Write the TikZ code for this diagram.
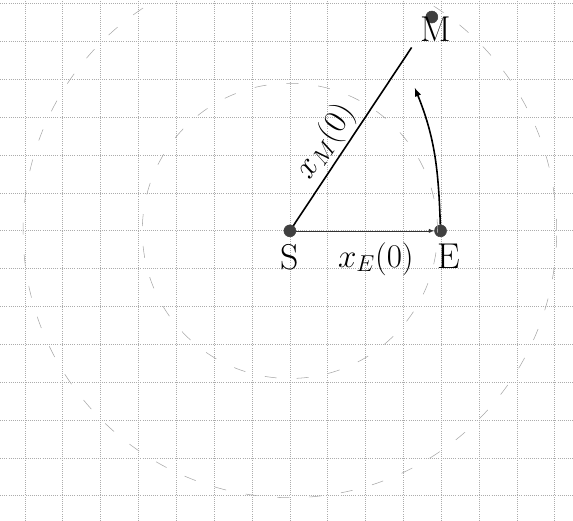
\documentclass[tikz,border=0pt]{standalone}
\usepackage{amsmath}
\usepackage{tikz}
\usetikzlibrary{positioning}
\tikzset{main node/.style={circle,fill=black!75,draw=black!75,minimum size=9pt,inner sep=0pt},}
\tikzset{orbit/.style={gray!70,thin,dash pattern=on 9pt off 15pt},}
\tikzset{paper/.style={gray!65,densely dotted,line width=0.6pt},}

\begin{document}
\begin{tikzpicture}[font=\fontsize{27}{30}\selectfont]

 \useasboundingbox (-7.66,-7.66) rectangle (7.48,6.10);
 \draw[paper] (-7.66,-7.66) grid (7.48,6.10);

 \node[main node,label={[yshift=-2pt]below:S}] (S) at (0,0) {};
    \node[main node,label={[xshift=6pt,yshift=-2pt]below:E}] (E) [right = 3.65cm of S] {};
    \node[main node,label={[xshift=3pt,yshift=8pt]below:M}] (M) at (3.75,5.65) {};
    \coordinate (tip) at (3.3,3.78);

     % orbits of E and M
     \draw[orbit] (S) circle (3.9);
     \draw[orbit] (S) circle (7.05);

     \path[-latex,draw,thin,black!80]    (S) edge node[below=5pt,xshift=8pt,black] {$x_E(0)$} (E);
     \path[draw,very thick,shorten >=0.8cm]    (S) edge node[sloped,above,pos=0.36,inner sep=2pt] {$x_M(0)$} (M);
     \path[-latex,draw,very thick]    (E) edge [out=92,in=-68] node {} (tip);

\end{tikzpicture}
\end{document}
